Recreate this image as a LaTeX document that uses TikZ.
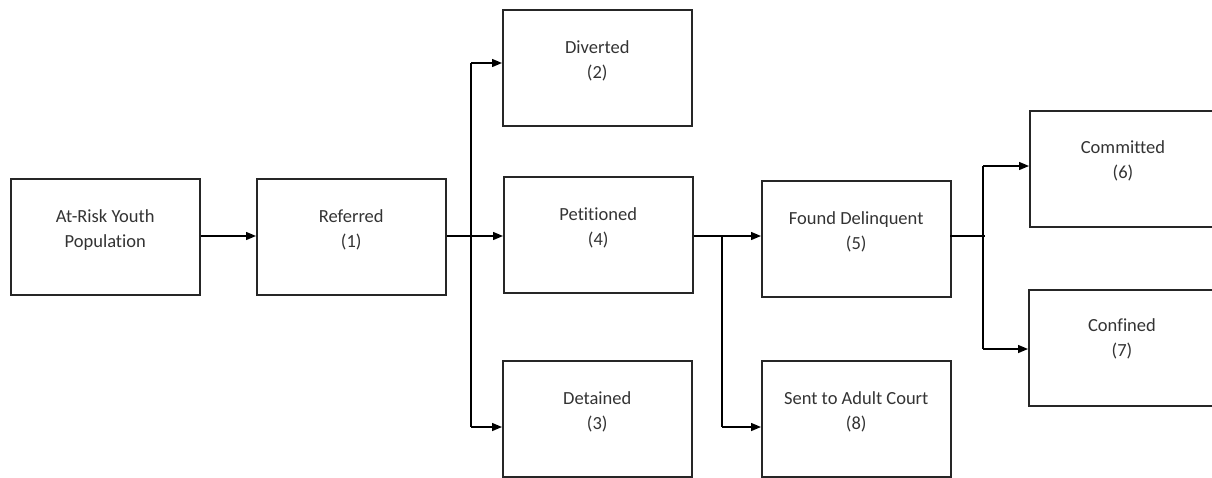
\documentclass[tikz,border=0pt]{standalone}
\usepackage{fontspec}
\setmainfont[Ligatures=NoCommon]{Carlito}
\usetikzlibrary{arrows.meta,calc}
\begin{document}
\begin{tikzpicture}[x=1pt,y=-1pt,
  box/.style={draw=black!85,line width=1.5pt,minimum width=189pt,minimum height=116pt,anchor=north west,inner sep=0pt},
  lbl/.style={align=center,font=\fontsize{18.5}{25}\selectfont,text=black!80,inner sep=0pt},
  conn/.style={draw=black,line width=1.4pt},
  arr/.style={conn,-{Triangle[length=10pt,width=8pt]}}]
\clip (0,0) rectangle (1212,477);
% boxes
\node[box] (ay) at (10,178) {};
\node[box] (ref) at (256,178) {};
\node[box] (div) at (502,9) {};
\node[box] (pet) at (503,176) {};
\node[box] (det) at (502,360) {};
\node[box] (fd) at (761,180) {};
\node[box] (adult) at (761,360) {};
\node[box,minimum width=200pt] (com) at (1029,110) {};
\node[box,minimum width=200pt] (con) at (1028,289) {};
% labels
\node[lbl] (tay) at ([yshift=7pt]ay.center) {At-Risk Youth\\Population};
\node[lbl] (tref) at ([yshift=7pt]ref.center) {Referred\\(1)};
\node[lbl] (tdiv) at ([yshift=7pt]div.center) {Diverted\\(2)};
\node[lbl] (tpet) at ([yshift=7pt]pet.center) {Petitioned\\(4)};
\node[lbl] (tdet) at ([yshift=7pt]det.center) {Detained\\(3)};
\node[lbl] (tfd) at ([yshift=7pt]fd.center) {Found Delinquent\\(5)};
\node[lbl] (tadult) at ([yshift=7pt]adult.center) {Sent to Adult Court\\(8)};
\node[lbl] (tcom) at (1123,161) {Committed\\(6)};
\node[lbl] (tcon) at (1122,339) {Confined\\(7)};
% branch points
\coordinate (b1) at (471,236);
\coordinate (b1t) at (471,63);
\coordinate (b1b) at (471,427);
\coordinate (b2) at (722,236);
\coordinate (b2b) at (722,427);
\coordinate (b3) at (983,236);
\coordinate (b3t) at (983,166);
\coordinate (b3b) at (983,349);
\coordinate (fdo) at (950,236);
% connectors
\draw[arr] (ay.east |- 0,236) -- (ref.west |- 0,236);
\draw[arr] (ref.east |- b1) -- (pet.west |- b1);
\draw[conn] (b1t) -- (b1b);
\draw[arr] (b1t) -- (b1t -| div.west);
\draw[arr] (b1b) -- (b1b -| det.west);
\draw[arr] (pet.east |- b2) -- (fd.west |- b2);
\draw[conn] (b2) -- (b2b);
\draw[arr] (b2b) -- (b2b -| adult.west);
\draw[conn] (fdo) -- ([xshift=2pt]b3);
\draw[conn] (b3t) -- (b3b);
\draw[arr] (b3t) -- (b3t -| com.west);
\draw[arr] (b3b) -- (b3b -| con.west);
\end{tikzpicture}
\end{document}
